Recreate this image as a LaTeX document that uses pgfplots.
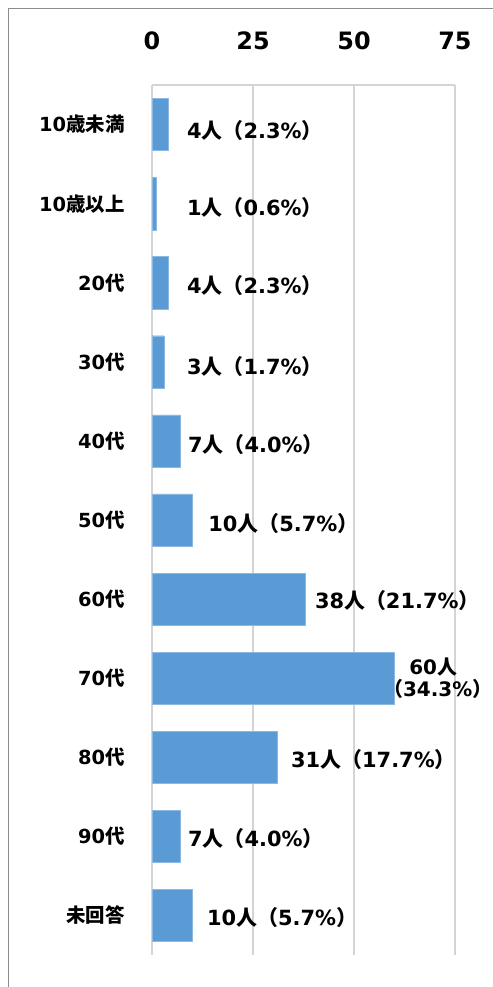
\documentclass[border=0pt]{standalone}
\usepackage{fontspec}
\usepackage{pgfplots}
\pgfplotsset{compat=1.18}
\setmainfont{DejaVu Sans}
\newfontfamily\cjk{Noto Sans CJK JP}
\newcommand{\J}[1]{{\cjk #1}}
\definecolor{barblue}{HTML}{5B9BD5}
\definecolor{gridgray}{HTML}{D4D4D4}
\definecolor{framegray}{HTML}{8C8C8C}
\begin{document}
\begin{tikzpicture}
\useasboundingbox (0,0) rectangle (493bp,-987bp);
\fill[white] (0,0) rectangle (493bp,-987bp);
\draw[framegray, line width=1bp] (8.5bp,-1100bp) -- (8.5bp,-8.5bp) -- (600bp,-8.5bp);
\begin{axis}[
  at={(152bp,-85bp)}, anchor=north west,
  scale only axis, width=303bp, height=870bp,
  xmin=0, xmax=75, ymin=-0.5, ymax=10.5,
  y dir=reverse,
  axis x line*=top, axis y line*=left,
  axis line style={gridgray, line width=1.2bp},
  xtick={0,25,50,75},
  xmajorgrids, major grid style={gridgray, line width=1.2bp},
  major tick length=0pt,
  ytick={0,...,10},
  yticklabels={{10\J{歳未満}},{10\J{歳以上}},{20\J{代}},{30\J{代}},{40\J{代}},{50\J{代}},{60\J{代}},{70\J{代}},{80\J{代}},{90\J{代}},{\J{未回答}}},
  /pgf/number format/assume math mode=true,
  xticklabel style={font=\fontsize{24}{24}\selectfont\bfseries, yshift=32bp},
  yticklabel style={font=\fontsize{19.5}{19.5}\selectfont\bfseries, xshift=-24bp},
  clip=false,
]
\addplot[xbar, bar width=0.66, fill=barblue, draw=barblue!70!white] coordinates {
  (4,0) (1,1) (4,2) (3,3) (7,4) (10,5) (38,6) (60,7) (31,8) (7,9) (10,10)
};
\addplot[only marks, mark=none, point meta=explicit symbolic,
  nodes near coords,
  every node near coord/.append style={anchor=west, inner sep=0pt, font=\fontsize{21}{21}\selectfont\bfseries}]
coordinates {
  (8.66,0.08) [{4\J{人（}2.3\%\J{）}}]
  (8.66,1.055) [{1\J{人（}0.6\%\J{）}}]
  (8.66,2.04) [{4\J{人（}2.3\%\J{）}}]
  (8.66,3.065) [{3\J{人（}1.7\%\J{）}}]
  (8.9,4.05) [{7\J{人（}4.0\%\J{）}}]
  (13.9,5.05) [{10\J{人（}5.7\%\J{）}}]
  (40.3,6.02) [{38\J{人（}21.7\%\J{）}}]
  (34.4,8.03) [{31\J{人（}17.7\%\J{）}}]
  (8.9,9.03) [{7\J{人（}4.0\%\J{）}}]
  (13.6,10.03) [{10\J{人（}5.7\%\J{）}}]
};
\addplot[only marks, mark=none, point meta=explicit symbolic,
  nodes near coords,
  every node near coord/.append style={anchor=center, inner sep=0pt, align=center, font=\fontsize{20}{23}\selectfont\bfseries}]
coordinates {
  (69.6,7.0) [{60\J{人}\\\J{（}34.3\%\J{）}\kern-0.45em}]
};
\end{axis}
\end{tikzpicture}
\end{document}
